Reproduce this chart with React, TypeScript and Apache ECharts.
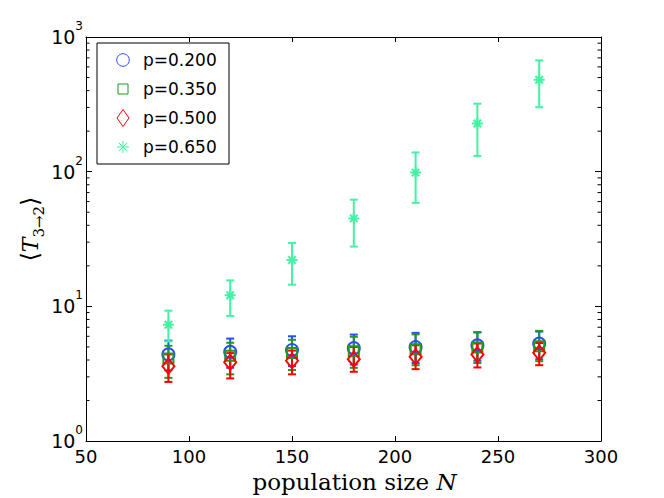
import React, { useEffect, useRef } from "react";
import * as echarts from "echarts";

const populationSizes = [90, 120, 150, 180, 210, 240, 270];

const p020Mean = [4.4, 4.6, 4.75, 4.9, 5.0, 5.15, 5.3];
const p020Lower = [3.35, 3.5, 3.6, 3.7, 3.8, 3.95, 4.05];
const p020Upper = [5.57, 5.77, 6.0, 6.18, 6.36, 6.4, 6.5];

const p035Mean = [4.1, 4.3, 4.5, 4.65, 4.8, 4.95, 5.05];
const p035Lower = [2.95, 3.13, 3.37, 3.5, 3.66, 3.8, 3.92];
const p035Upper = [5.1, 5.37, 5.65, 5.95, 6.2, 6.45, 6.58];

const p050Mean = [3.6, 3.85, 3.95, 4.06, 4.23, 4.4, 4.52];
const p050Lower = [2.75, 2.92, 3.13, 3.27, 3.42, 3.52, 3.66];
const p050Upper = [4.4, 4.5, 4.7, 5.0, 5.15, 5.3, 5.35];

const p065Mean = [7.3, 12.1, 22.1, 45, 98.5, 228, 482];
const p065Lower = [5.5, 8.5, 14.5, 27.8, 58.7, 131, 301];
const p065Upper = [9.3, 15.6, 29.6, 62, 139, 320, 670];

const seriesNames = ["p=0.200", "p=0.350", "p=0.500", "p=0.650"];
const seriesColors = ["#2a4cff", "#1f9a1f", "#ff0000", "#44f2a4"];

const xTickMin = 50;
const xTickMax = 300;
const xTickStep = 50;
const yMin = 1;
const yMax = 1000;
const minorTickValues = [2, 3, 4, 5, 6, 7, 8, 9, 20, 30, 40, 50, 60, 70, 80, 90, 200, 300, 400, 500, 600, 700, 800, 900];

const ASTERISK = "path://M0,5L10,5M5,0L5,10M1.6,1.6L8.4,8.4M8.4,1.6L1.6,8.4";

const SANS = "'DejaVu Sans', sans-serif";
const SERIF = "'DejaVu Serif', 'Liberation Serif', serif";

function App() {
  const ref = useRef<HTMLDivElement>(null);

  useEffect(() => {
    if (!ref.current) return;
    const chart = echarts.init(ref.current, null, { renderer: "svg" });

    const groups = [
      { mean: p020Mean, lo: p020Lower, hi: p020Upper, symbol: "circle", size: 12 },
      { mean: p035Mean, lo: p035Lower, hi: p035Upper, symbol: "rect", size: 10 },
      { mean: p050Mean, lo: p050Lower, hi: p050Upper, symbol: "diamond", size: [12, 15] },
      { mean: p065Mean, lo: p065Lower, hi: p065Upper, symbol: ASTERISK, size: 11 },
    ];

    const series: any[] = [];
    groups.forEach((g, i) => {
      const color = seriesColors[i];
      series.push({
        type: "custom",
        name: seriesNames[i] + " error",
        xAxisIndex: 0,
        yAxisIndex: 0,
        data: populationSizes.map((x, k) => [x, g.mean[k], g.lo[k], g.hi[k]]),
        encode: { x: 0, y: [1, 2, 3] },
        clip: false,
        renderItem: (params: any, api: any) => {
          const x = api.value(0);
          const pHi = api.coord([x, api.value(3)]);
          const pLo = api.coord([x, api.value(2)]);
          const cap = 4;
          const style = { stroke: color, lineWidth: 2, fill: "none" };
          return {
            type: "group",
            children: [
              { type: "line", shape: { x1: pHi[0], y1: pHi[1], x2: pLo[0], y2: pLo[1] }, style },
              { type: "line", shape: { x1: pHi[0] - cap, y1: pHi[1], x2: pHi[0] + cap, y2: pHi[1] }, style },
              { type: "line", shape: { x1: pLo[0] - cap, y1: pLo[1], x2: pLo[0] + cap, y2: pLo[1] }, style },
            ],
          };
        },
      });
      series.push({
        type: "scatter",
        name: seriesNames[i],
        xAxisIndex: 0,
        yAxisIndex: 0,
        data: populationSizes.map((x, k) => [x, g.mean[k]]),
        symbol: g.symbol,
        symbolSize: g.size,
        itemStyle: { color: "rgba(0,0,0,0)", borderColor: color, borderWidth: 2, opacity: 1 },
        emphasis: { disabled: true },
      });
    });

    // minor ticks for log axes (left and right)
    series.push({
      type: "custom",
      name: "minor ticks",
      xAxisIndex: 0,
      yAxisIndex: 0,
      data: minorTickValues.map((v) => [xTickMin, v]),
      silent: true,
      clip: false,
      renderItem: (params: any, api: any) => {
        const v = api.value(1);
        const l = api.coord([xTickMin, v]);
        const r = api.coord([xTickMax, v]);
        const len = 3.5;
        const style = { stroke: "#000", lineWidth: 1 };
        return {
          type: "group",
          children: [
            { type: "line", shape: { x1: l[0], y1: l[1], x2: l[0] + len, y2: l[1] }, style },
            { type: "line", shape: { x1: r[0], y1: r[1], x2: r[0] - len, y2: r[1] }, style },
          ],
        };
      },
    });

    // legend drawn as graphic
    const lx = 123;
    const rows = [60, 89, 118, 147];
    const legendChildren: any[] = [
      {
        type: "rect",
        shape: { x: 97, y: 43, width: 132, height: 121 },
        style: { fill: "#fff", stroke: "#000", lineWidth: 1 },
      },
      { type: "circle", shape: { cx: lx, cy: rows[0], r: 6.3 }, style: { fill: "none", stroke: seriesColors[0], lineWidth: 1 } },
      { type: "rect", shape: { x: lx - 5, y: rows[1] - 5, width: 10, height: 10 }, style: { fill: "none", stroke: seriesColors[1], lineWidth: 1 } },
      {
        type: "polygon",
        shape: { points: [[lx, rows[2] - 8.5], [lx + 6, rows[2]], [lx, rows[2] + 8.5], [lx - 6, rows[2]]] },
        style: { fill: "none", stroke: seriesColors[2], lineWidth: 1 },
      },
      { type: "line", shape: { x1: lx - 6, y1: rows[3], x2: lx + 6, y2: rows[3] }, style: { stroke: seriesColors[3], lineWidth: 1 } },
      { type: "line", shape: { x1: lx, y1: rows[3] - 6, x2: lx, y2: rows[3] + 6 }, style: { stroke: seriesColors[3], lineWidth: 1 } },
      { type: "line", shape: { x1: lx - 4.3, y1: rows[3] - 4.3, x2: lx + 4.3, y2: rows[3] + 4.3 }, style: { stroke: seriesColors[3], lineWidth: 1 } },
      { type: "line", shape: { x1: lx + 4.3, y1: rows[3] - 4.3, x2: lx - 4.3, y2: rows[3] + 4.3 }, style: { stroke: seriesColors[3], lineWidth: 1 } },
    ];
    seriesNames.forEach((name, i) => {
      legendChildren.push({
        type: "text",
        x: 143,
        y: rows[i],
        style: { text: name, fill: "#000", font: `17px ${SANS}`, verticalAlign: "middle", align: "left" },
      });
    });

    const axisLine = { show: true, onZero: false, lineStyle: { color: "#000", width: 1 } };

    chart.setOption({
      animation: false,
      backgroundColor: "#fff",
      grid: { left: 86, top: 37, right: 63, bottom: 55, containLabel: false },
      xAxis: [
        {
          type: "value",
          min: xTickMin,
          max: xTickMax,
          interval: xTickStep,
          position: "bottom",
          axisLine,
          axisTick: { show: true, inside: true, length: 5, lineStyle: { color: "#000" } },
          axisLabel: { show: true, color: "#000", fontFamily: SANS, fontSize: 18, margin: 6 },
          splitLine: { show: false },
          name: "population size {n|N}",
          nameLocation: "middle",
          nameGap: 17,
          nameTextStyle: {
            color: "#000",
            fontFamily: SERIF,
            fontSize: 23,
            verticalAlign: "top",
            padding: [0, 0, 0, 22],
            rich: { n: { fontFamily: SERIF, fontSize: 23, fontStyle: "italic", color: "#000" } },
          },
        },
        {
          type: "value",
          min: xTickMin,
          max: xTickMax,
          interval: xTickStep,
          position: "top",
          axisLine,
          axisTick: { show: true, inside: true, length: 5, lineStyle: { color: "#000" } },
          axisLabel: { show: false },
          splitLine: { show: false },
        },
      ],
      yAxis: [
        {
          type: "log",
          logBase: 10,
          min: yMin,
          max: yMax,
          position: "left",
          axisLine,
          axisTick: { show: true, inside: true, length: 6, lineStyle: { color: "#000" } },
          axisLabel: {
            show: true,
            margin: 3,
            formatter: (v: number) => `{b|10}{s|${Math.round(Math.log10(v))}}`,
            rich: {
              b: { fontFamily: SANS, fontSize: 19, color: "#000", lineHeight: 34 },
              s: { fontFamily: SANS, fontSize: 12, color: "#000", lineHeight: 10, verticalAlign: "top" },
            },
          },
          splitLine: { show: false },
          name: "⟨{t|T}{s|3→2}⟩",
          nameLocation: "middle",
          nameGap: 40,
          nameMoveOverlap: false,
          nameRotate: 90,
          nameTextStyle: {
            color: "#000",
            fontFamily: SERIF,
            fontSize: 24,
            lineHeight: 32,
            padding: [0, 0, 0, 20],
            rich: {
              t: { fontFamily: SERIF, fontSize: 22, fontStyle: "italic", color: "#000", lineHeight: 32 },
              s: { fontFamily: SERIF, fontSize: 15, color: "#000", lineHeight: 15, verticalAlign: "bottom" },
            },
          },
        },
        {
          type: "log",
          logBase: 10,
          min: yMin,
          max: yMax,
          position: "right",
          axisLine,
          axisTick: { show: true, inside: true, length: 6, lineStyle: { color: "#000" } },
          axisLabel: { show: false },
          splitLine: { show: false },
        },
      ],
      series,
      graphic: [{ type: "group", z: 100, children: legendChildren }],
    });

    return () => chart.dispose();
  }, []);

  return (
    <div
      ref={ref}
      style={{ position: "fixed", left: 0, top: 0, width: 664, height: 498, background: "#fff" }}
    />
  );
}

export default App;
